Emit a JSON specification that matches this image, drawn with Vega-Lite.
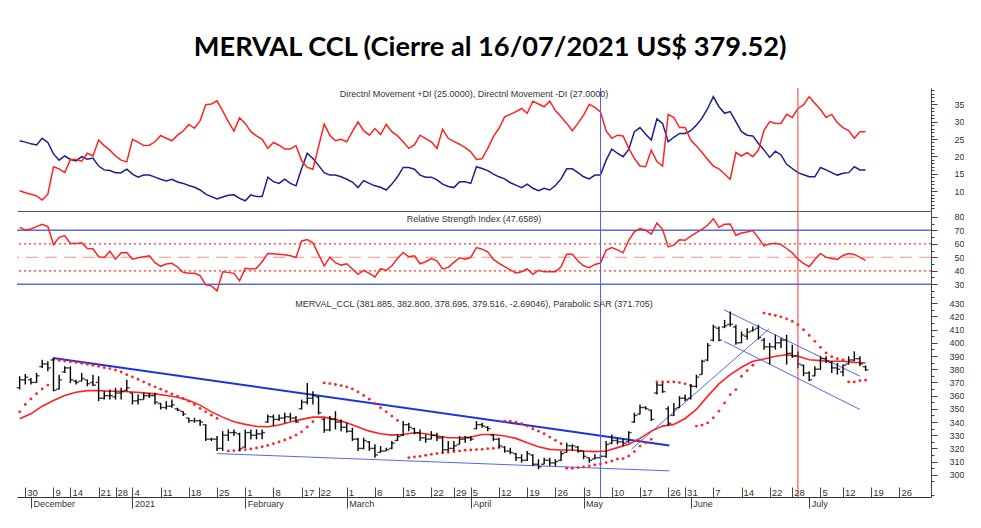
{
"$schema": "https://vega.github.io/schema/vega-lite/v6.json",
"background": "white",
"padding": {"left": 16, "top": 34, "right": 0, "bottom": 0},
"title": {"text": "MERVAL CCL (Cierre al 16/07/2021 US$ 379.52)", "font": "Lato", "fontSize": 27.2, "fontWeight": "bold", "color": "#000", "anchor": "middle", "offset": 25},
"config": {"view": {"stroke": null}, "axis": {"grid": false, "title": null, "labelFont": "Liberation Sans", "labelFontSize": 9, "labelColor": "#333", "domainColor": "#444", "tickColor": "#444"}},
"spacing": 0,
"bounds": "flush",
"datasets": {
"days": [
{"i":-1,"o":366,"h":374.7,"l":364.6,"c":372,"p":24.5,"m":10.1,"r":72.2},
{"i":0,"o":372,"h":376.4,"l":368.4,"c":374,"p":24.1,"m":9.5,"r":70.2},
{"i":1,"o":372,"h":373.4,"l":368.4,"c":370,"p":23.6,"m":9.1,"r":71.0},
{"i":2,"o":370,"h":377.2,"l":369.6,"c":375,"p":23.3,"m":8.6,"r":72.7},
{"i":3,"o":382,"h":387.2,"l":381,"c":384,"p":25.2,"m":7.4,"r":74.4},
{"i":4,"o":384,"h":386,"l":378.4,"c":381,"p":24.0,"m":9.1,"r":72.7},
{"i":5,"o":387,"h":388.5,"l":363.3,"c":364,"p":20.7,"m":17.0,"r":59.4},
{"i":6,"o":365,"h":375.9,"l":364.6,"c":372,"p":18.9,"m":16.4,"r":64.8},
{"i":7,"o":378,"h":382.2,"l":377.2,"c":381,"p":20.1,"m":15.3,"r":66.1},
{"i":8,"o":381,"h":382.2,"l":369.6,"c":372,"p":19.1,"m":19.1,"r":60.2},
{"i":9,"o":371,"h":372.1,"l":368.4,"c":370,"p":18.7,"m":19.1,"r":60.2},
{"i":10,"o":371,"h":377.2,"l":370.9,"c":373,"p":19.9,"m":18.6,"r":60.7},
{"i":11,"o":372,"h":372.1,"l":367.1,"c":369,"p":19.2,"m":20.9,"r":56.5},
{"i":12,"o":370,"h":375.9,"l":367.1,"c":368,"p":19.5,"m":20.1,"r":56.3},
{"i":13,"o":370,"h":374.7,"l":355.8,"c":358,"p":17.2,"m":24.7,"r":50.4},
{"i":14,"o":358,"h":363.3,"l":357,"c":360,"p":16.1,"m":23.1,"r":49.9},
{"i":15,"o":360,"h":364.6,"l":357,"c":360,"p":15.9,"m":21.8,"r":54.5},
{"i":16,"o":359,"h":365.9,"l":357,"c":362,"p":15.3,"m":20.1,"r":48.6},
{"i":17,"o":362,"h":365.9,"l":357,"c":363,"p":15.3,"m":18.9,"r":53.3},
{"i":18,"o":364,"h":372.1,"l":363.3,"c":366,"p":16.3,"m":18.4,"r":53.6},
{"i":19,"o":362,"h":362.1,"l":353.3,"c":356,"p":14.9,"m":24.9,"r":48.6},
{"i":20,"o":356,"h":360.8,"l":353.3,"c":357,"p":14.0,"m":24.1,"r":49.6},
{"i":21,"o":357,"h":362.1,"l":357,"c":360,"p":14.6,"m":23.1,"r":50.4},
{"i":22,"o":360,"h":362.1,"l":358.3,"c":360,"p":14.6,"m":23.2,"r":51.1},
{"i":23,"o":360,"h":362.1,"l":353.3,"c":355,"p":14.0,"m":24.2,"r":46.0},
{"i":24,"o":354,"h":354.5,"l":349.5,"c":351,"p":13.4,"m":26.0,"r":43.3},
{"i":25,"o":351,"h":355.8,"l":349.5,"c":352,"p":12.9,"m":25.2,"r":45.0},
{"i":26,"o":352,"h":357,"l":350.8,"c":353,"p":13.4,"m":24.5,"r":45.5},
{"i":27,"o":350,"h":350.8,"l":348.2,"c":349,"p":12.6,"m":26.1,"r":42.8},
{"i":28,"o":348,"h":348.2,"l":344.5,"c":346,"p":12.2,"m":27.3,"r":38.8},
{"i":29,"o":343,"h":343.2,"l":339.4,"c":341,"p":11.6,"m":29.2,"r":38.1},
{"i":30,"o":341,"h":343.2,"l":339.4,"c":341,"p":11.1,"m":28.1,"r":38.1},
{"i":31,"o":341,"h":342,"l":336.9,"c":340,"p":10.3,"m":30.3,"r":36.4},
{"i":32,"o":338,"h":338.2,"l":325.6,"c":327,"p":9.1,"m":34.9,"r":29.5},
{"i":33,"o":327,"h":328.1,"l":325.6,"c":327,"p":8.4,"m":35.1,"r":28.8},
{"i":34,"o":327,"h":329.4,"l":318.1,"c":320,"p":7.7,"m":36.0,"r":25.1},
{"i":35,"o":320,"h":333.1,"l":318.1,"c":330,"p":8.3,"m":33.1,"r":39.3},
{"i":36,"o":330,"h":334.4,"l":325.6,"c":332,"p":8.8,"m":30.0,"r":38.8},
{"i":37,"o":332,"h":334.4,"l":329.4,"c":332,"p":8.9,"m":27.3,"r":38.1},
{"i":38,"o":331,"h":331.9,"l":318.1,"c":320,"p":7.9,"m":31.1,"r":32.5},
{"i":39,"o":321,"h":334.4,"l":320.6,"c":332,"p":7.2,"m":29.5,"r":41.8},
{"i":40,"o":332,"h":334.4,"l":326.9,"c":330,"p":8.9,"m":27.1,"r":41.3},
{"i":41,"o":330,"h":334.4,"l":326.9,"c":331,"p":8.4,"m":25.9,"r":41.8},
{"i":42,"o":331,"h":334.4,"l":326.9,"c":332,"p":8.4,"m":24.9,"r":46.7},
{"i":43,"o":340,"h":345.7,"l":339.4,"c":344,"p":14.0,"m":22.3,"r":52.8},
{"i":44,"o":344,"h":345.7,"l":336.9,"c":342,"p":12.7,"m":24.0,"r":52.6},
{"i":45,"o":342,"h":345.7,"l":340.7,"c":343,"p":12.2,"m":23.2,"r":52.3},
{"i":46,"o":343,"h":347,"l":339.4,"c":344,"p":13.4,"m":22.1,"r":51.8},
{"i":47,"o":344,"h":347,"l":340.7,"c":343,"p":12.2,"m":22.1,"r":51.1},
{"i":48,"o":343,"h":344.5,"l":339.4,"c":340,"p":11.5,"m":23.1,"r":49.9},
{"i":49,"o":350,"h":357,"l":349.5,"c":355,"p":16.5,"m":18.8,"r":62.1},
{"i":50,"o":355,"h":369.6,"l":353.3,"c":358,"p":20.9,"m":16.8,"r":63.1},
{"i":51,"o":358,"h":363.3,"l":353.3,"c":360,"p":19.4,"m":16.3,"r":60.7},
{"i":52,"o":359,"h":359.6,"l":345.7,"c":347,"p":17.4,"m":22.8,"r":52.1},
{"i":53,"o":342,"h":343.2,"l":331.9,"c":334,"p":15.3,"m":29.3,"r":43.5},
{"i":54,"o":334,"h":344.5,"l":333.1,"c":342,"p":14.6,"m":26.1,"r":50.1},
{"i":55,"o":342,"h":348.2,"l":334.4,"c":340,"p":14.6,"m":24.5,"r":46.0},
{"i":56,"o":340,"h":342,"l":333.1,"c":336,"p":14.1,"m":24.9,"r":44.2},
{"i":57,"o":336,"h":339.4,"l":331.9,"c":333,"p":13.4,"m":24.2,"r":45.2},
{"i":58,"o":333,"h":335.7,"l":325.6,"c":327,"p":12.6,"m":27.1,"r":41.3},
{"i":59,"o":327,"h":328.1,"l":318.1,"c":320,"p":11.0,"m":29.9,"r":37.4},
{"i":60,"o":320,"h":328.1,"l":319.3,"c":326,"p":13.0,"m":27.4,"r":40.3},
{"i":61,"o":325,"h":325.6,"l":318.1,"c":320,"p":12.2,"m":26.1,"r":38.1},
{"i":62,"o":320,"h":323.1,"l":313,"c":315,"p":11.5,"m":28.0,"r":35.4},
{"i":63,"o":317,"h":321.8,"l":316.8,"c":318,"p":11.1,"m":26.3,"r":41.5},
{"i":64,"o":318,"h":320.6,"l":318.1,"c":319,"p":10.3,"m":29.2,"r":40.3},
{"i":65,"o":320,"h":325.6,"l":319.3,"c":324,"p":12.0,"m":27.1,"r":43.7},
{"i":66,"o":326,"h":330.6,"l":325.6,"c":329,"p":14.1,"m":25.9,"r":49.1},
{"i":67,"o":330,"h":340.7,"l":329.4,"c":338,"p":16.8,"m":24.2,"r":53.6},
{"i":68,"o":338,"h":339.4,"l":333.1,"c":336,"p":16.8,"m":22.3,"r":50.4},
{"i":69,"o":335,"h":335.7,"l":330.6,"c":332,"p":16.3,"m":23.3,"r":51.1},
{"i":70,"o":332,"h":334.4,"l":325.6,"c":328,"p":14.6,"m":26.1,"r":45.2},
{"i":71,"o":328,"h":330.6,"l":324.3,"c":327,"p":14.0,"m":25.1,"r":46.7},
{"i":72,"o":327,"h":333.1,"l":326.9,"c":330,"p":14.0,"m":24.2,"r":49.1},
{"i":73,"o":330,"h":331.9,"l":325.6,"c":328,"p":13.2,"m":22.3,"r":47.4},
{"i":74,"o":328,"h":329.4,"l":316.8,"c":319,"p":12.0,"m":27.8,"r":41.3},
{"i":75,"o":319,"h":325.6,"l":318.1,"c":320,"p":11.3,"m":25.2,"r":42.5},
{"i":76,"o":320,"h":325.6,"l":318.1,"c":322,"p":11.0,"m":24.3,"r":46.2},
{"i":77,"o":323,"h":329.4,"l":323.1,"c":327,"p":12.7,"m":23.5,"r":49.6},
{"i":78,"o":327,"h":329.4,"l":324.3,"c":328,"p":12.7,"m":22.5,"r":48.6},
{"i":79,"o":328,"h":329.4,"l":325.6,"c":327,"p":12.2,"m":21.3,"r":49.9},
{"i":80,"o":335,"h":340.7,"l":334.4,"c":338,"p":17.0,"m":19.1,"r":57.2},
{"i":81,"o":338,"h":339.4,"l":335.7,"c":337,"p":16.5,"m":19.3,"r":56.0},
{"i":82,"o":336,"h":336.9,"l":333.1,"c":335,"p":15.9,"m":22.3,"r":54.0},
{"i":83,"o":330,"h":330.6,"l":325.6,"c":327,"p":14.9,"m":25.7,"r":48.4},
{"i":84,"o":327,"h":328.1,"l":320.6,"c":322,"p":14.1,"m":28.1,"r":45.5},
{"i":85,"o":321,"h":321.8,"l":316.8,"c":318,"p":13.5,"m":31.4,"r":43.0},
{"i":86,"o":318,"h":320.6,"l":315.5,"c":317,"p":12.4,"m":32.1,"r":40.6},
{"i":87,"o":316,"h":316.8,"l":310.5,"c":313,"p":11.7,"m":32.9,"r":38.3},
{"i":88,"o":313,"h":315.5,"l":309.2,"c":311,"p":11.0,"m":33.8,"r":39.3},
{"i":89,"o":311,"h":318.1,"l":310.5,"c":316,"p":12.0,"m":32.4,"r":41.3},
{"i":90,"o":315,"h":315.5,"l":306.7,"c":308,"p":10.8,"m":35.9,"r":37.4},
{"i":91,"o":308,"h":311.8,"l":304.2,"c":306,"p":10.1,"m":35.1,"r":40.3},
{"i":92,"o":308,"h":313,"l":308,"c":311,"p":10.8,"m":34.3,"r":39.3},
{"i":93,"o":311,"h":313,"l":306.7,"c":309,"p":10.3,"m":35.9,"r":39.3},
{"i":94,"o":309,"h":311.8,"l":306.7,"c":310,"p":11.6,"m":33.2,"r":39.3},
{"i":95,"o":311,"h":318.1,"l":310.5,"c":316,"p":13.5,"m":31.4,"r":43.0},
{"i":96,"o":317,"h":324.3,"l":316.8,"c":322,"p":16.4,"m":29.5,"r":52.3},
{"i":97,"o":322,"h":323.1,"l":318.1,"c":322,"p":16.4,"m":27.4,"r":52.3},
{"i":98,"o":321,"h":321.8,"l":316.8,"c":318,"p":15.3,"m":29.5,"r":47.2},
{"i":99,"o":318,"h":318.1,"l":311.8,"c":314,"p":14.1,"m":31.9,"r":43.7},
{"i":100,"o":313,"h":313,"l":309.2,"c":311,"p":13.5,"m":35.0,"r":42.3},
{"i":101,"o":312,"h":315.5,"l":311.8,"c":313,"p":14.6,"m":34.1,"r":44.7},
{"i":102,"o":313,"h":315.5,"l":311.8,"c":314,"p":14.6,"m":32.8,"r":45.7},
{"i":103,"o":314,"h":325.6,"l":313,"c":323,"p":18.9,"m":27.3,"r":55.3},
{"i":104,"o":324,"h":330.6,"l":323.1,"c":326,"p":22.1,"m":25.2,"r":57.2},
{"i":105,"o":326,"h":328.1,"l":323.1,"c":325,"p":20.9,"m":26.1,"r":55.5},
{"i":106,"o":325,"h":326.9,"l":321.8,"c":324,"p":19.9,"m":25.9,"r":53.3},
{"i":107,"o":325,"h":333.1,"l":324.3,"c":332,"p":22.0,"m":22.3,"r":62.6},
{"i":108,"o":340,"h":347,"l":339.4,"c":345,"p":27.1,"m":19.4,"r":68.8},
{"i":109,"o":346,"h":353.3,"l":345.7,"c":351,"p":28.3,"m":17.2,"r":71.2},
{"i":110,"o":351,"h":352,"l":349.5,"c":350,"p":26.4,"m":17.0,"r":70.0},
{"i":111,"o":349,"h":349.5,"l":340.7,"c":342,"p":24.7,"m":21.8,"r":67.1},
{"i":112,"o":362,"h":369.6,"l":360.8,"c":368,"p":30.8,"m":18.5,"r":75.4},
{"i":113,"o":368,"h":369.6,"l":362.1,"c":363,"p":29.5,"m":17.2,"r":70.7},
{"i":114,"o":350,"h":352,"l":337,"c":339,"p":24.2,"m":32.1,"r":57.7},
{"i":115,"o":345,"h":354.5,"l":344.5,"c":350,"p":25.5,"m":31.2,"r":59.0},
{"i":116,"o":351,"h":359.6,"l":350.8,"c":358,"p":26.6,"m":28.3,"r":62.9},
{"i":117,"o":358,"h":360.8,"l":355.8,"c":357,"p":26.6,"m":28.3,"r":62.6},
{"i":118,"o":358,"h":368.4,"l":357,"c":367,"p":27.4,"m":24.7,"r":65.6},
{"i":119,"o":367,"h":375.9,"l":365.9,"c":374,"p":29.0,"m":23.0,"r":68.3},
{"i":120,"o":376,"h":387.2,"l":375.9,"c":386,"p":31.0,"m":21.1,"r":70.7},
{"i":121,"o":387,"h":399.8,"l":386,"c":398,"p":33.8,"m":19.1,"r":73.7},
{"i":122,"o":402,"h":413.7,"l":401.1,"c":412,"p":37.2,"m":17.2,"r":78.6},
{"i":123,"o":411,"h":412.4,"l":401.1,"c":402,"p":34.3,"m":16.4,"r":72.2},
{"i":124,"o":412,"h":417.4,"l":411.1,"c":413,"p":32.4,"m":14.9,"r":74.4},
{"i":125,"o":414,"h":423.7,"l":412.4,"c":414,"p":32.9,"m":13.4,"r":74.7},
{"i":126,"o":412,"h":413.7,"l":398.6,"c":400,"p":30.0,"m":21.1,"r":66.3},
{"i":127,"o":400,"h":408.6,"l":399.8,"c":406,"p":27.1,"m":20.1,"r":68.0},
{"i":128,"o":405,"h":411.1,"l":402.3,"c":408,"p":26.1,"m":21.1,"r":68.8},
{"i":129,"o":409,"h":412.4,"l":408.6,"c":410,"p":25.9,"m":19.9,"r":69.8},
{"i":130,"o":411,"h":413.7,"l":402.3,"c":404,"p":23.7,"m":21.8,"r":64.4},
{"i":131,"o":402,"h":403.6,"l":394.8,"c":397,"p":21.8,"m":27.6,"r":58.5},
{"i":132,"o":397,"h":399.8,"l":383.5,"c":397,"p":19.7,"m":30.0,"r":59.9},
{"i":133,"o":397,"h":406.1,"l":394.8,"c":400,"p":21.5,"m":29.5,"r":60.4},
{"i":134,"o":400,"h":403.6,"l":396.1,"c":402,"p":20.4,"m":29.5,"r":59.4},
{"i":135,"o":402,"h":406.1,"l":383.5,"c":392,"p":17.7,"m":32.1,"r":56.5},
{"i":136,"o":392,"h":398.6,"l":388.5,"c":390,"p":16.5,"m":31.2,"r":53.3},
{"i":137,"o":390,"h":393.5,"l":381,"c":384,"p":15.3,"m":33.8,"r":48.6},
{"i":138,"o":383,"h":383.5,"l":374.7,"c":377,"p":14.7,"m":34.8,"r":45.5},
{"i":139,"o":377,"h":378.4,"l":370.9,"c":372,"p":14.1,"m":37.2,"r":43.0},
{"i":140,"o":375,"h":382.2,"l":374.7,"c":380,"p":14.1,"m":35.3,"r":48.4},
{"i":141,"o":380,"h":389.8,"l":379.7,"c":388,"p":16.8,"m":33.5,"r":52.8},
{"i":142,"o":388,"h":389.8,"l":384.7,"c":386,"p":16.1,"m":31.2,"r":49.9},
{"i":143,"o":385,"h":386,"l":377.2,"c":381,"p":15.3,"m":32.1,"r":49.1},
{"i":144,"o":381,"h":384.7,"l":375.9,"c":380,"p":14.6,"m":29.7,"r":48.4},
{"i":145,"o":378,"h":383.5,"l":374.7,"c":383,"p":15.1,"m":28.3,"r":51.3},
{"i":146,"o":384,"h":389.8,"l":383.5,"c":387,"p":15.3,"m":27.4,"r":52.8},
{"i":147,"o":387,"h":393.5,"l":386,"c":388,"p":17.0,"m":25.2,"r":52.1},
{"i":148,"o":388,"h":389.8,"l":382.2,"c":384,"p":16.1,"m":27.1,"r":49.9},
{"i":149,"o":381.885,"h":382.8,"l":378.695,"c":379.516,"p":16.1,"m":27.1,"r":47.7}
],
"ma": [
{"i":-1,"v":342.5},{"i":1,"v":346.2},{"i":3,"v":352},{"i":5,"v":356.3},{"i":7,"v":360.1},{"i":9,"v":362.6},{"i":11,"v":363.8},{"i":13,"v":363.8},{"i":15,"v":363.3},{"i":17,"v":363.3},{"i":19,"v":362.8},{"i":21,"v":362.1},{"i":23,"v":361.3},{"i":25,"v":360.1},{"i":27,"v":358.8},{"i":29,"v":356.3},{"i":31,"v":352.8},{"i":33,"v":347.7},{"i":35,"v":343.7},{"i":37,"v":340.2},{"i":39,"v":338.2},{"i":41,"v":336.7},{"i":43,"v":336.4},{"i":45,"v":337.7},{"i":47,"v":340},{"i":49,"v":342},{"i":51,"v":343.7},{"i":53,"v":343.7},{"i":55,"v":342},{"i":57,"v":339.4},{"i":59,"v":336.2},{"i":61,"v":333.1},{"i":63,"v":331.1},{"i":65,"v":330.1},{"i":67,"v":330.6},{"i":69,"v":331.9},{"i":71,"v":331.1},{"i":73,"v":329.4},{"i":75,"v":328.1},{"i":77,"v":328.1},{"i":79,"v":328.6},{"i":81,"v":330.6},{"i":83,"v":330.6},{"i":85,"v":329.4},{"i":87,"v":327.6},{"i":89,"v":324.3},{"i":91,"v":321.3},{"i":93,"v":319.3},{"i":95,"v":318.8},{"i":97,"v":318.8},{"i":99,"v":318.1},{"i":101,"v":317.6},{"i":103,"v":318.1},{"i":105,"v":320.6},{"i":107,"v":323.1},{"i":109,"v":327.6},{"i":111,"v":333.1},{"i":113,"v":336.9},{"i":115,"v":338.2},{"i":117,"v":342.7},{"i":119,"v":349.5},{"i":121,"v":359.6},{"i":123,"v":368.9},{"i":125,"v":375.9},{"i":127,"v":381.5},{"i":129,"v":386},{"i":131,"v":387.7},{"i":133,"v":389.8},{"i":135,"v":391},{"i":137,"v":389.8},{"i":139,"v":387.2},{"i":141,"v":386.5},{"i":143,"v":386},{"i":145,"v":386},{"i":147,"v":385.2},{"i":149,"v":384.7}
],
"sar": [
{"i":-1,"v":347.7},{"i":0,"v":353.3},{"i":1,"v":357.5},{"i":2,"v":361.5},{"i":3,"v":365},{"i":4,"v":368},
{"i":5,"v":387.2},{"i":6,"v":386.7},{"i":7,"v":386.2},{"i":8,"v":385.7},{"i":9,"v":385.2},{"i":10,"v":384.5},{"i":11,"v":383.7},{"i":12,"v":383},{"i":13,"v":382.2},{"i":14,"v":381.2},{"i":15,"v":380.5},{"i":16,"v":379.4},{"i":17,"v":377.9},{"i":18,"v":375.9},{"i":19,"v":374.2},{"i":20,"v":372.4},{"i":21,"v":370.4},{"i":22,"v":368.4},{"i":23,"v":366.6},{"i":24,"v":364.9},{"i":25,"v":363.1},{"i":26,"v":361.3},{"i":27,"v":359.6},{"i":28,"v":357.8},{"i":29,"v":355.8},{"i":30,"v":353.3},{"i":31,"v":350.3},{"i":32,"v":347.7},{"i":33,"v":345.2},{"i":34,"v":342.7},
{"i":36,"v":318.1},{"i":37,"v":318.3},{"i":38,"v":318.6},{"i":39,"v":319.1},{"i":40,"v":319.6},{"i":41,"v":320.3},{"i":42,"v":321.3},{"i":43,"v":322.3},{"i":44,"v":323.6},{"i":45,"v":324.9},{"i":46,"v":326.4},{"i":47,"v":328.1},{"i":48,"v":330.1},{"i":49,"v":332.6},{"i":50,"v":336.2},{"i":51,"v":340.2},
{"i":53,"v":369.6},{"i":54,"v":369.1},{"i":55,"v":368.4},{"i":56,"v":367.6},{"i":57,"v":366.6},{"i":58,"v":365.1},{"i":59,"v":362.8},{"i":60,"v":360.1},{"i":61,"v":357.3},{"i":62,"v":354},{"i":63,"v":350.8},{"i":64,"v":347.7},{"i":65,"v":344.5},{"i":66,"v":341.2},
{"i":68,"v":313},{"i":69,"v":313.5},{"i":70,"v":314},{"i":71,"v":314.8},{"i":72,"v":315.5},{"i":73,"v":316.1},{"i":74,"v":316.6},{"i":75,"v":317.1},{"i":76,"v":317.6},{"i":77,"v":318.1},{"i":78,"v":318.6},{"i":79,"v":318.8},{"i":80,"v":319.1},{"i":81,"v":319.3},{"i":82,"v":319.8},{"i":83,"v":320.1},{"i":84,"v":320.6},
{"i":85,"v":340.7},{"i":86,"v":340.7},{"i":87,"v":339.9},{"i":88,"v":338.7},{"i":89,"v":336.9},{"i":90,"v":334.9},{"i":91,"v":333.1},{"i":92,"v":331.1},{"i":93,"v":328.6},{"i":94,"v":326.1},{"i":95,"v":323.6},
{"i":96,"v":305},{"i":97,"v":305},{"i":98,"v":305.5},{"i":99,"v":306},{"i":100,"v":306.7},{"i":101,"v":307.5},{"i":102,"v":308.2},{"i":103,"v":309.3},{"i":104,"v":310.5},{"i":105,"v":312},{"i":106,"v":312.3},{"i":107,"v":314.3},{"i":108,"v":317.6},{"i":109,"v":321.8},{"i":110,"v":324.3},{"i":111,"v":326.9},
{"i":112,"v":370.4},{"i":113,"v":370.4},{"i":114,"v":370.4},{"i":115,"v":370.4},{"i":116,"v":369.9},{"i":117,"v":368.9},{"i":118,"v":367.9},
{"i":119,"v":336.9},{"i":120,"v":337.7},{"i":121,"v":339.4},{"i":122,"v":343.2},{"i":123,"v":348.2},{"i":124,"v":354.5},{"i":125,"v":360.8},{"i":126,"v":364.6},{"i":127,"v":374.7},{"i":128,"v":378.9},{"i":129,"v":383},
{"i":131,"v":422.5},{"i":132,"v":421.7},{"i":133,"v":420.7},{"i":134,"v":419.7},{"i":135,"v":418.2},{"i":136,"v":416.2},{"i":137,"v":413.7},{"i":138,"v":409.9},{"i":139,"v":405.6},{"i":140,"v":401.1},{"i":141,"v":396.6},{"i":142,"v":392.3},{"i":143,"v":389.5},{"i":144,"v":388},{"i":145,"v":387},
{"i":146,"v":370.4},{"i":147,"v":370.4},{"i":148,"v":371.4},{"i":149,"v":371.7}
],
"trend": [
{"id":"a","kind":"thick","i":4.9,"v":388.5},{"id":"a","kind":"thick","i":114.2,"v":322.3},
{"id":"b","kind":"thin","i":34,"v":316.1},{"id":"b","kind":"thin","i":114.2,"v":303},
{"id":"c","kind":"thin","i":107.5,"v":319.5},{"id":"c","kind":"thin","i":131.9,"v":410.6},
{"id":"d","kind":"thin","i":123.9,"v":425},{"id":"d","kind":"thin","i":148,"v":374.7},
{"id":"e","kind":"thin","i":123.9,"v":401.1},{"id":"e","kind":"thin","i":148,"v":349.5}
],
"vlines": [{"i":102,"kind":"blue"},{"i":137,"kind":"red"}],
"levels": [{"level":70,"kind":"band"},{"level":30,"kind":"band"},{"level":60,"kind":"dot"},{"level":40,"kind":"dot"},{"level":50,"kind":"mid"}]
},
"vconcat": [
{
"width": 914, "height": 123,
"title": {"text": "Directnl Movement +DI (25.0000), Directnl Movement -DI (27.0000)", "font": "Liberation Sans", "fontSize": 9, "fontWeight": "normal", "color": "#333", "anchor": "middle", "frame": "group", "offset": -18, "baseline": "alphabetic"},
"layer": [
{"data": {"name": "days"}, "mark": {"type": "line", "color": "#1c1f8c", "strokeWidth": 1.5},
 "encoding": {
  "x": {"field": "i", "type": "quantitative", "scale": {"domain": [-1.47, 160.6], "nice": false, "zero": false}, "axis": {"orient": "bottom", "labels": false, "ticks": false, "domain": true, "domainColor": "#555", "domainWidth": 1.2}},
  "y": {"field": "p", "type": "quantitative", "scale": {"domain": [4.25, 39.7], "nice": false, "zero": false}, "axis": {"orient": "right", "values": [10,15,20,25,30,35], "tickSize": 6, "labelPadding": 27, "labelAlign": "right", "labelBaseline": "middle"}}}},
{"data": {"name": "days"}, "mark": {"type": "line", "color": "#ff2222", "strokeWidth": 1.5},
 "encoding": {
  "x": {"field": "i", "type": "quantitative", "scale": {"domain": [-1.47, 160.6], "nice": false, "zero": false}, "axis": null},
  "y": {"field": "m", "type": "quantitative", "scale": {"domain": [4.25, 39.7], "nice": false, "zero": false}, "axis": {"orient": "right", "values": [5,6,7,8,9,11,12,13,14,16,17,18,19,21,22,23,24,26,27,28,29,31,32,33,34,36,37,38,39], "tickSize": 3, "labels": false, "domain": false}}}},
{"data": {"name": "vlines"}, "mark": {"type": "rule", "strokeWidth": 1},
 "encoding": {
  "x": {"field": "i", "type": "quantitative", "scale": {"domain": [-1.47, 160.6], "nice": false, "zero": false}, "axis": null},
  "color": {"field": "kind", "type": "nominal", "scale": {"domain": ["blue", "red"], "range": ["#4f5ef5", "#f03a3a"]}, "legend": null}}}
],
"resolve": {"axis": {"x": "independent", "y": "independent"}}
},
{
"width": 914, "height": 81,
"title": {"text": "Relative Strength Index (47.6589)", "font": "Liberation Sans", "fontSize": 9, "fontWeight": "normal", "color": "#333", "anchor": "middle", "frame": "group", "offset": -20, "baseline": "alphabetic"},
"layer": [
{"data": {"name": "levels"}, "mark": {"type": "rule"},
 "encoding": {
  "y": {"field": "level", "type": "quantitative", "scale": {"domain": [24.25, 84.3], "nice": false, "zero": false}, "axis": {"orient": "right", "values": [30,40,50,60,70,80], "tickSize": 6, "labelPadding": 27, "labelAlign": "right", "labelBaseline": "middle"}},
  "color": {"field": "kind", "type": "nominal", "scale": {"domain": ["band", "dot", "mid"], "range": ["#5a68ee", "#ff3030", "#ff8c8c"]}, "legend": null},
  "strokeDash": {"field": "kind", "type": "nominal", "scale": {"domain": ["band", "dot", "mid"], "range": [[1,0],[2,3],[12,7]]}, "legend": null},
  "strokeWidth": {"field": "kind", "type": "nominal", "scale": {"domain": ["band", "dot", "mid"], "range": [1.5, 1, 1.5]}, "legend": null}}},
{"data": {"name": "days"}, "mark": {"type": "line", "color": "#ff2222", "strokeWidth": 1.5},
 "encoding": {
  "x": {"field": "i", "type": "quantitative", "scale": {"domain": [-1.47, 160.6], "nice": false, "zero": false}, "axis": null},
  "y": {"field": "r", "type": "quantitative", "scale": {"domain": [24.25, 84.3], "nice": false, "zero": false}, "axis": {"orient": "right", "values": [25,35,45,55,65,75], "tickSize": 3, "labels": false, "domain": false}}}},
{"data": {"name": "vlines"}, "mark": {"type": "rule", "strokeWidth": 1},
 "encoding": {
  "x": {"field": "i", "type": "quantitative", "scale": {"domain": [-1.47, 160.6], "nice": false, "zero": false}, "axis": null},
  "color": {"field": "kind", "type": "nominal", "scale": {"domain": ["blue", "red"], "range": ["#4f5ef5", "#f03a3a"]}, "legend": null}}}
],
"resolve": {"axis": {"x": "independent", "y": "independent"}, "scale": {"color": "independent", "strokeDash": "independent", "strokeWidth": "independent"}}
},
{
"width": 914, "height": 205,
"title": {"text": "MERVAL_CCL (381.885, 382.800, 378.695, 379.516, -2.69046), Parabolic SAR (371.705)", "font": "Liberation Sans", "fontSize": 9, "fontWeight": "normal", "color": "#333", "anchor": "middle", "frame": "group", "offset": -24, "baseline": "alphabetic"},
"layer": [
{"data": {"name": "trend"}, "mark": {"type": "line"},
 "encoding": {
  "x": {"field": "i", "type": "quantitative", "scale": {"domain": [-1.47, 160.6], "nice": false, "zero": false}, "axis": null},
  "y": {"field": "v", "type": "quantitative", "scale": {"domain": [283.2, 438.5], "nice": false, "zero": false}, "axis": null},
  "detail": {"field": "id"},
  "color": {"field": "kind", "type": "nominal", "scale": {"domain": ["thick", "thin"], "range": ["#1c33e0", "#5566f0"]}, "legend": null},
  "strokeWidth": {"field": "kind", "type": "nominal", "scale": {"domain": ["thick", "thin"], "range": [2, 1]}, "legend": null}}},
{"data": {"name": "ma"}, "mark": {"type": "line", "color": "#ff2222", "strokeWidth": 1.6},
 "encoding": {
  "x": {"field": "i", "type": "quantitative", "scale": {"domain": [-1.47, 160.6], "nice": false, "zero": false}, "axis": null},
  "y": {"field": "v", "type": "quantitative", "scale": {"domain": [283.2, 438.5], "nice": false, "zero": false}, "axis": {"orient": "right", "values": [300,310,320,330,340,350,360,370,380,390,400,410,420,430], "tickSize": 6, "labelPadding": 27, "labelAlign": "right", "labelBaseline": "middle"}}}},
{"data": {"name": "sar"}, "mark": {"type": "circle", "color": "#ff2222", "size": 8, "opacity": 1},
 "encoding": {
  "x": {"field": "i", "type": "quantitative", "scale": {"domain": [-1.47, 160.6], "nice": false, "zero": false}, "axis": null},
  "y": {"field": "v", "type": "quantitative", "scale": {"domain": [283.2, 438.5], "nice": false, "zero": false}, "axis": {"orient": "right", "values": [285,295,305,315,325,335,345,355,365,375,385,395,405,415,425,435], "tickSize": 3, "labels": false, "domain": false}}}},
{"data": {"name": "days"}, "mark": {"type": "rule", "color": "#000", "strokeWidth": 1.4},
 "encoding": {
  "x": {"field": "i", "type": "quantitative", "scale": {"domain": [-1.47, 160.6], "nice": false, "zero": false}, "axis": {"orient": "bottom", "values": [1,19,39,57,79,99,118,139], "labelExpr": "['December','2021','February','March','April','May','June','July'][indexof([1,19,39,57,79,99,118,139], datum.value)]", "tickSize": 11, "labelPadding": -9, "labelAlign": "left", "labelBaseline": "top", "labelOffset": 2, "domain": false, "labelFlush": false, "labelOverlap": false, "labelFontSize": 9}},
  "y": {"field": "l", "type": "quantitative", "scale": {"domain": [283.2, 438.5], "nice": false, "zero": false}, "axis": null},
  "y2": {"field": "h"}}},
{"data": {"name": "days"}, "mark": {"type": "tick", "orient": "horizontal", "color": "#000", "size": 3, "thickness": 1.4, "xOffset": -1.5},
 "encoding": {
  "x": {"field": "i", "type": "quantitative", "scale": {"domain": [-1.47, 160.6], "nice": false, "zero": false}, "axis": {"orient": "bottom", "values": [0,5,8,13,16,19,24,29,34,39,44,49,52,57,62,67,72,76,79,84,89,94,99,104,109,114,117,122,127,132,136,141,145,150,155], "labelExpr": "['30','9','14','21','28','4','11','18','25','1','8','17','22','1','8','15','22','29','5','12','19','26','3','10','17','26','31','7','14','22','28','5','12','19','26'][indexof([0,5,8,13,16,19,24,29,34,39,44,49,52,57,62,67,72,76,79,84,89,94,99,104,109,114,117,122,127,132,136,141,145,150,155], datum.value)]", "tickSize": -10, "labelPadding": 8.5, "labelAlign": "left", "labelBaseline": "alphabetic", "labelOffset": 1.5, "domain": true, "domainColor": "#333", "labelFlush": false, "labelOverlap": false, "labelFontSize": 9.5}},
  "y": {"field": "o", "type": "quantitative", "scale": {"domain": [283.2, 438.5], "nice": false, "zero": false}, "axis": null}}},
{"data": {"name": "days"}, "mark": {"type": "tick", "orient": "horizontal", "color": "#000", "size": 3, "thickness": 1.4, "xOffset": 1.5},
 "encoding": {
  "x": {"field": "i", "type": "quantitative", "scale": {"domain": [-1.47, 160.6], "nice": false, "zero": false}, "axis": null},
  "y": {"field": "c", "type": "quantitative", "scale": {"domain": [283.2, 438.5], "nice": false, "zero": false}, "axis": null}}},
{"data": {"name": "vlines"}, "mark": {"type": "rule", "strokeWidth": 1},
 "encoding": {
  "x": {"field": "i", "type": "quantitative", "scale": {"domain": [-1.47, 160.6], "nice": false, "zero": false}, "axis": null},
  "color": {"field": "kind", "type": "nominal", "scale": {"domain": ["blue", "red"], "range": ["#4f5ef5", "#f03a3a"]}, "legend": null}}}
],
"resolve": {"axis": {"x": "independent", "y": "independent"}, "scale": {"color": "independent", "strokeWidth": "independent"}}
}
]
}
